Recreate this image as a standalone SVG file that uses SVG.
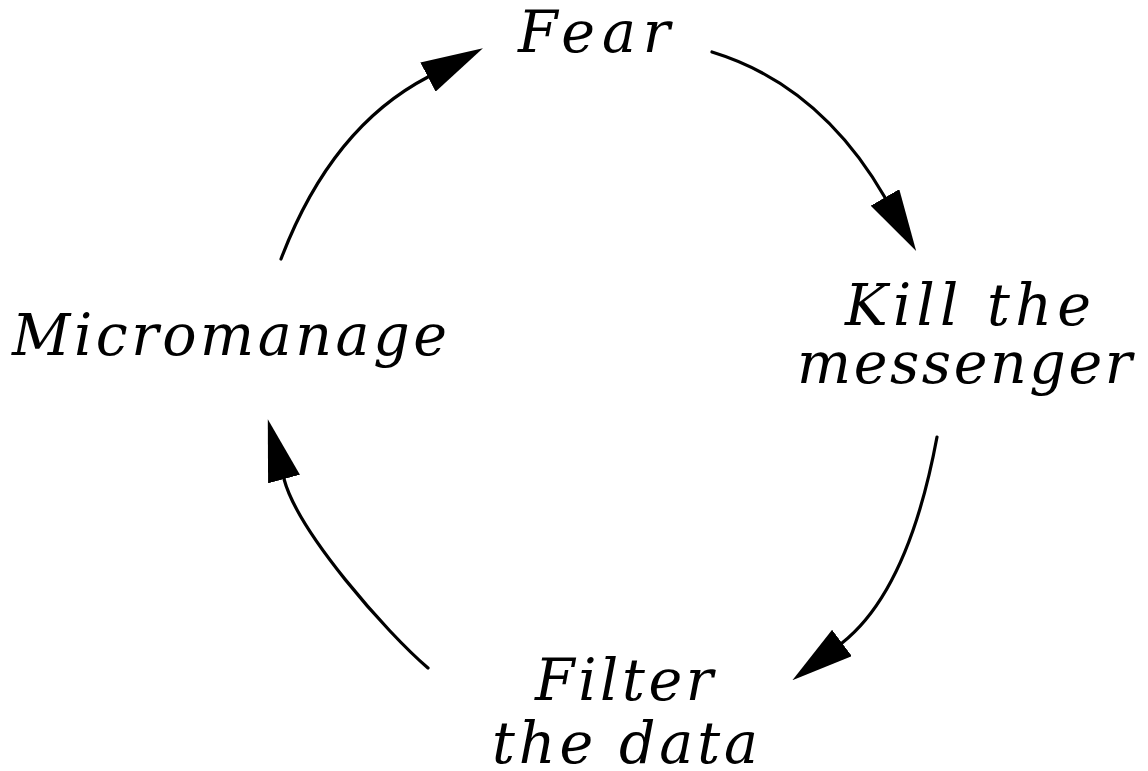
<svg xmlns="http://www.w3.org/2000/svg" width="1148" height="771" viewBox="0 0 1148 771">
<defs>
<style>
.lbl{font-family:"DejaVu Serif","Liberation Serif",serif;font-style:italic;font-size:57px;fill:#000}
.arc{fill:none;stroke:#000;stroke-width:3.2;stroke-linecap:round}
</style>
<marker id="head" markerUnits="userSpaceOnUse" viewBox="0 0 62 33" refX="5" refY="16.5" markerWidth="62" markerHeight="33" orient="auto">
<path d="M0,0 L62,16.5 L0,33 Z" fill="#000"/>
</marker>
</defs>
<rect width="1148" height="771" fill="#fff"/>
<g id="connectors">
<path class="arc" d="M281,259 Q331,127.5 428,77 L432.4,74.7" marker-end="url(#head)"/>
<path class="arc" d="M712,52 Q820,85 885,197.5 L887.5,201.8" marker-end="url(#head)"/>
<path class="arc" d="M937,437 Q908.5,590.5 842,643 L838,646" marker-end="url(#head)"/>
<path class="arc" d="M428,668 C386,632 298,532 284,479 L282.7,474.2" marker-end="url(#head)"/>
</g>
<g id="fear"><text class="lbl" x="518" y="52" textLength="152" lengthAdjust="spacing">Fear</text></g>
<g id="kill"><text class="lbl" x="845" y="325" textLength="246" lengthAdjust="spacing">Kill the</text><text class="lbl" x="797" y="383" textLength="335" lengthAdjust="spacing">messenger</text></g>
<g id="filter"><text class="lbl" x="535" y="700" textLength="178" lengthAdjust="spacing">Filter</text><text class="lbl" x="492" y="763" textLength="266" lengthAdjust="spacing">the data</text></g>
<g id="micromanage"><text class="lbl" x="12" y="355" textLength="435" lengthAdjust="spacing">Micromanage</text></g>
</svg>
